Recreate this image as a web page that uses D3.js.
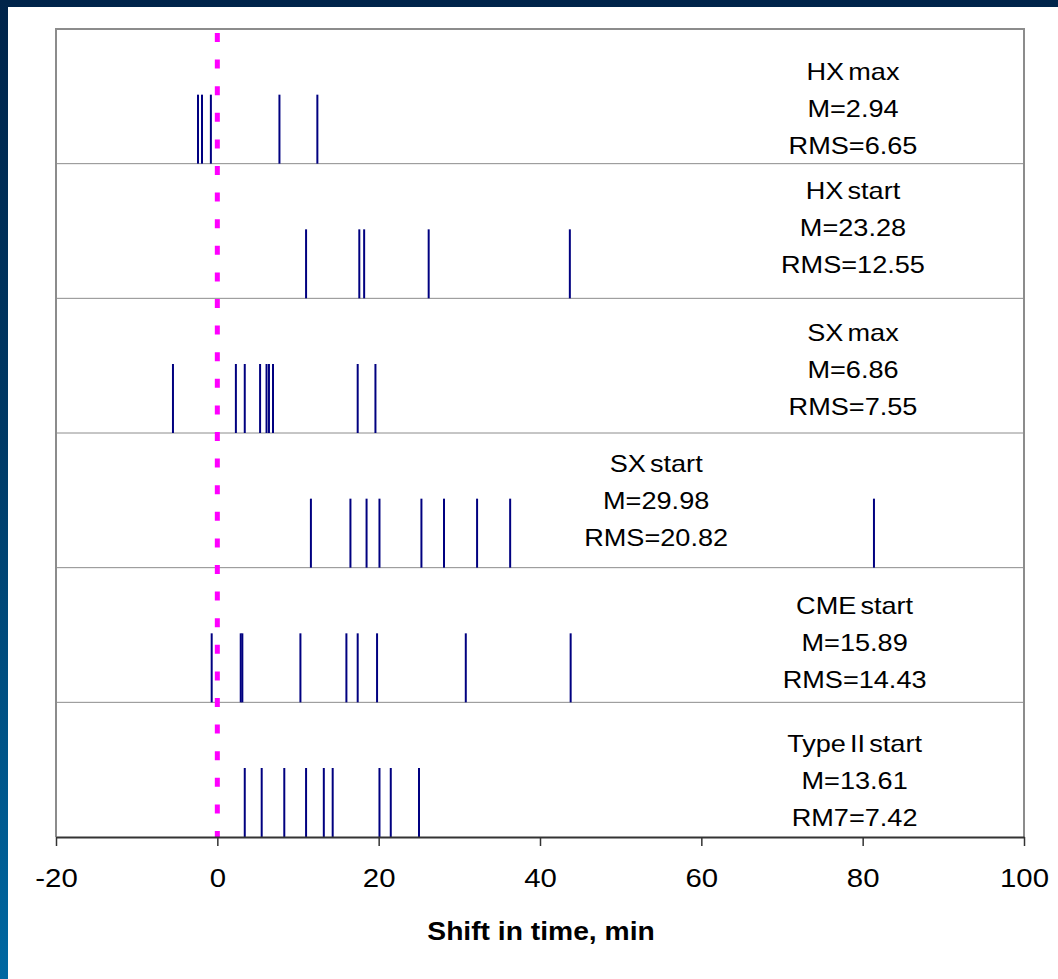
<!DOCTYPE html>
<html lang="en">
<head>
    <meta charset="UTF-8">
    <title>Shift in time</title>
    <script src="https://d3js.org/d3.v7.min.js"></script>
    <style>
        body { margin: 0; background: #fff; }
        text { font-family: "Liberation Sans", Arial, sans-serif; }
    </style>
</head>
<body>
    <script>
        // events, top to bottom
        const rows = ["HX max", "HX start", "SX max", "SX start", "CME start", "Type II start"];
        const meanLabels = ["M=2.94", "M=23.28", "M=6.86", "M=29.98", "M=15.89", "M=13.61"];
        const rmsLabels = ["RMS=6.65", "RMS=12.55", "RMS=7.55", "RMS=20.82", "RMS=14.43", "RM7=7.42"];

        // shifts in minutes
        const hxMax = [-2.4, -1.9, -0.8, 7.7, 12.4];
        const hxStart = [11.0, 17.6, 18.2, 26.2, 43.7];
        const sxMax = [-5.5, 2.3, 3.4, 5.3, 6.1, 6.4, 6.9, 17.4, 19.6];
        const sxStart = [11.6, 16.5, 18.5, 20.1, 25.3, 28.1, 32.2, 36.3, 81.4];
        const cmeStart = [-0.7, 2.9, 3.1, 10.3, 16.0, 17.4, 19.8, 30.8, 43.8];
        const typeIIStart = [3.4, 5.5, 8.3, 11.0, 13.2, 14.3, 20.1, 21.5, 25.0];
        const shifts = [hxMax, hxStart, sxMax, sxStart, cmeStart, typeIIStart];

        const xTicks = [-20, 0, 20, 40, 60, 80, 100];

        const width = 1058, height = 979;
        const plot = {left: 56, right: 1024, top: 29, bottom: 837};
        const stretch = 1.13; // text in the picture is a bit wide

        // where each text block sits: x in minutes, first baseline below row top
        const labelX = [78.8, 78.8, 78.8, 54.4, 79.0, 79.0];
        const labelDy = [51, 35, 43, 39, 46, 50];

        const x = d3.scaleLinear().domain([-20, 100]).range([plot.left, plot.right]);
        const y = d3.scaleBand().domain(rows).range([plot.top, plot.bottom]);

        const svg = d3.select("body").append("svg")
            .attr("width", width)
            .attr("height", height);

        const grad = svg.append("defs").append("linearGradient")
            .attr("id", "frame")
            .attr("x1", 0).attr("y1", 0).attr("x2", 0).attr("y2", 1);
        grad.append("stop").attr("offset", 0).attr("stop-color", "#00244a");
        grad.append("stop").attr("offset", 0.45).attr("stop-color", "#003a66");
        grad.append("stop").attr("offset", 1).attr("stop-color", "#0068a2");

        svg.append("rect").attr("width", width).attr("height", height).attr("fill", "url(#frame)");
        svg.append("rect").attr("x", 8).attr("y", 7)
            .attr("width", width - 8).attr("height", height - 7)
            .attr("fill", "#fff");

        // row separators
        svg.append("g").selectAll("line")
            .data(rows.slice(1))
            .join("line")
            .attr("x1", plot.left).attr("x2", plot.right)
            .attr("y1", d => y(d)).attr("y2", d => y(d))
            .attr("stroke", "#8c8c8c")
            .attr("stroke-width", 1);

        // frame of the plot
        svg.append("path")
            .attr("d", `M${plot.left},${plot.bottom}V${plot.top}H${plot.right}V${plot.bottom}`)
            .attr("fill", "none")
            .attr("stroke", "#8c8c8c")
            .attr("stroke-width", 2);

        // event marks
        const tickLen = 69;
        rows.forEach((r, i) => {
            svg.append("g").selectAll("line")
                .data(shifts[i])
                .join("line")
                .attr("x1", d => x(d)).attr("x2", d => x(d))
                .attr("y1", y(r) + y.bandwidth()).attr("y2", y(r) + y.bandwidth() - tickLen)
                .attr("stroke", "#000080")
                .attr("stroke-width", 2);
        });

        // zero line
        svg.append("line")
            .attr("x1", x(0)).attr("x2", x(0))
            .attr("y1", plot.top + 4).attr("y2", plot.bottom)
            .attr("stroke", "#ff00ff")
            .attr("stroke-width", 5)
            .attr("stroke-dasharray", "9 17.6");

        // row labels
        rows.forEach((r, i) => {
            const lines = [r, meanLabels[i], rmsLabels[i]];
            svg.append("g").selectAll("text")
                .data(lines)
                .join("text")
                .attr("transform", (d, j) =>
                    `translate(${x(labelX[i])},${y(r) + labelDy[i] + j * 37}) scale(${stretch},1)`)
                .attr("text-anchor", "middle")
                .attr("font-size", 24)
                .attr("word-spacing", -3)
                .attr("fill", "#000")
                .text(d => d);
        });

        // x axis
        const axis = svg.append("g")
            .attr("transform", `translate(0,${plot.bottom})`)
            .call(d3.axisBottom(x).tickValues(xTicks).tickSize(9).tickSizeOuter(0).tickFormat(d3.format("d")));
        axis.select(".domain").attr("stroke", "#333").attr("stroke-width", 2);
        axis.selectAll(".tick line").attr("stroke", "#333").attr("stroke-width", 1.5);
        axis.selectAll(".tick text")
            .attr("y", 50)
            .attr("dy", null)
            .attr("transform", `scale(${stretch},1)`)
            .attr("font-size", 26)
            .attr("font-family", "'Liberation Sans', Arial, sans-serif")
            .attr("fill", "#000")
            .text(d => d < 0 ? "-" + Math.abs(d) : d);

        svg.append("text")
            .attr("transform", `translate(${(plot.left + plot.right) / 2 + 1},940) scale(${stretch},1)`)
            .attr("text-anchor", "middle")
            .attr("font-size", 25)
            .attr("font-weight", "bold")
            .text("Shift in time, min");
    </script>
</body>
</html>
